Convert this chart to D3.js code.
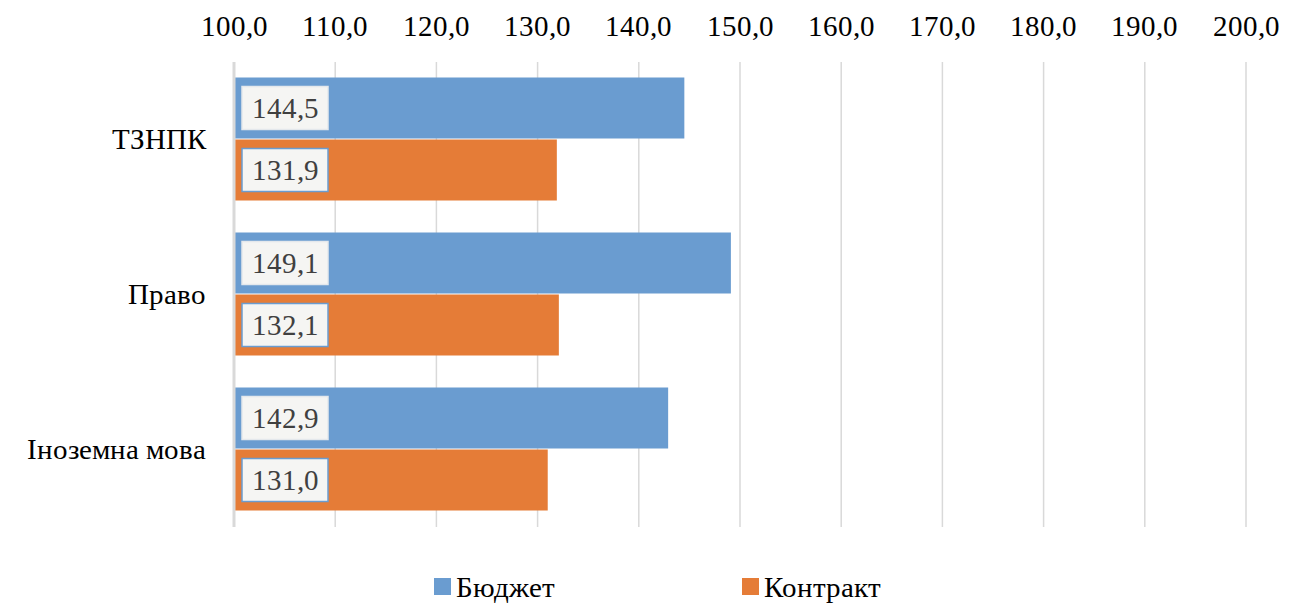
<!DOCTYPE html>
<html>
<head>
<meta charset="utf-8">
<script src="https://cdn.jsdelivr.net/npm/d3@7"></script>
<style>
  @font-face { font-family: "ChartSerif"; src: local("Liberation Serif"), local("LiberationSerif"), local("Times New Roman"); }
  body { margin: 0; background: #fff; }
  svg { display: block; }
</style>
</head>
<body>
<svg id="chart" width="1290" height="603"></svg>
<script>
// Categories (top to bottom) and series values
const categories = ["ТЗНПК", "Право", "Іноземна мова"];
const seriesNames = ["Бюджет", "Контракт"];
const budget = [144.5, 149.1, 142.9];
const contract = [131.9, 132.1, 131.0];
const xTicks = [100, 110, 120, 130, 140, 150, 160, 170, 180, 190, 200];

const colors = { "Бюджет": "#6A9CD0", "Контракт": "#E57C37" };
const values = { "Бюджет": budget, "Контракт": contract };
const serif = "ChartSerif, 'Liberation Serif', 'Times New Roman', monospace";

const svg = d3.select("#chart");
const plot = { left: 234, right: 1246, top: 62, bottom: 527 };

const x = d3.scaleLinear().domain([100, 200]).range([plot.left, plot.right]);
const y0 = d3.scaleBand().domain(categories).range([plot.top, plot.bottom]).paddingInner(0.2).paddingOuter(0.1);
const y1 = d3.scaleBand().domain(seriesNames).range([0, y0.bandwidth()]).padding(0);

const fmt = v => d3.format(".1f")(v).replace(".", ",");

// Shared text styling
function serifText(sel, size) {
  return sel
    .attr("font-family", serif)
    .style("font-family", serif, "important")
    .attr("font-size", size)
    .style("font-size", size + "px", "important");
}

// Vertical gridlines
svg.append("g").selectAll("line")
  .data(xTicks.slice(1))
  .join("line")
  .attr("x1", d => x(d)).attr("x2", d => x(d))
  .attr("y1", plot.top).attr("y2", plot.bottom)
  .attr("stroke", "#D9D9D9").attr("stroke-width", 1.5);

// Top axis tick labels
svg.append("g").selectAll("text")
  .data(xTicks)
  .join("text")
  .call(serifText, 28.5)
  .attr("x", d => x(d))
  .attr("y", 36)
  .attr("text-anchor", "middle")
  .attr("fill", "#000")
  .text(fmt);

// Category labels
svg.append("g").selectAll("text")
  .data(categories)
  .join("text")
  .call(serifText, 28.5)
  .attr("x", 206)
  .attr("y", d => y0(d) + y0.bandwidth() / 2)
  .attr("dy", "0.35em")
  .attr("text-anchor", "end")
  .attr("fill", "#000")
  .text(d => d);

// Bars
const rows = [];
categories.forEach((c, i) => seriesNames.forEach(s => rows.push({ cat: c, series: s, value: values[s][i] })));

const g = svg.append("g");
g.selectAll("rect.bar")
  .data(rows)
  .join("rect")
  .attr("class", "bar")
  .attr("x", x(100))
  .attr("y", d => y0(d.cat) + y1(d.series))
  .attr("width", d => x(d.value) - x(100))
  .attr("height", y1.bandwidth() - 1)
  .attr("fill", d => colors[d.series]);

// Value label boxes at bar base
const lbl = g.selectAll("g.lbl")
  .data(rows)
  .join("g")
  .attr("class", "lbl")
  .attr("transform", d => `translate(${x(100) + 8},${y0(d.cat) + y1(d.series) + (y1.bandwidth() - 1) / 2})`);

lbl.append("rect")
  .attr("x", 0).attr("y", -21.5)
  .attr("width", 86).attr("height", 43)
  .attr("fill", "#F5F5F3")
  .attr("stroke", d => d.series === "Контракт" ? "#6A9CD0" : "#E4E8EC")
  .attr("stroke-width", 1.5);

lbl.append("text")
  .call(serifText, 29)
  .attr("x", 43).attr("y", 0)
  .attr("dy", "0.35em")
  .attr("text-anchor", "middle")
  .attr("fill", "#404040")
  .text(d => fmt(d.value));

// Axis baseline
svg.append("line")
  .attr("x1", x(100)).attr("x2", x(100))
  .attr("y1", plot.top).attr("y2", plot.bottom)
  .attr("stroke", "#D9D9D9").attr("stroke-width", 3);

// Legend
const legendItems = [
  { name: "Бюджет", x: 434 },
  { name: "Контракт", x: 742 }
];
const leg = svg.append("g").selectAll("g")
  .data(legendItems)
  .join("g")
  .attr("transform", d => `translate(${d.x},0)`);
leg.append("rect")
  .attr("x", 0).attr("y", 578)
  .attr("width", 17).attr("height", 17)
  .attr("fill", d => colors[d.name]);
leg.append("text")
  .call(serifText, 28.5)
  .attr("x", 22).attr("y", 597)
  .attr("fill", "#000")
  .text(d => d.name);
</script>
</body>
</html>
